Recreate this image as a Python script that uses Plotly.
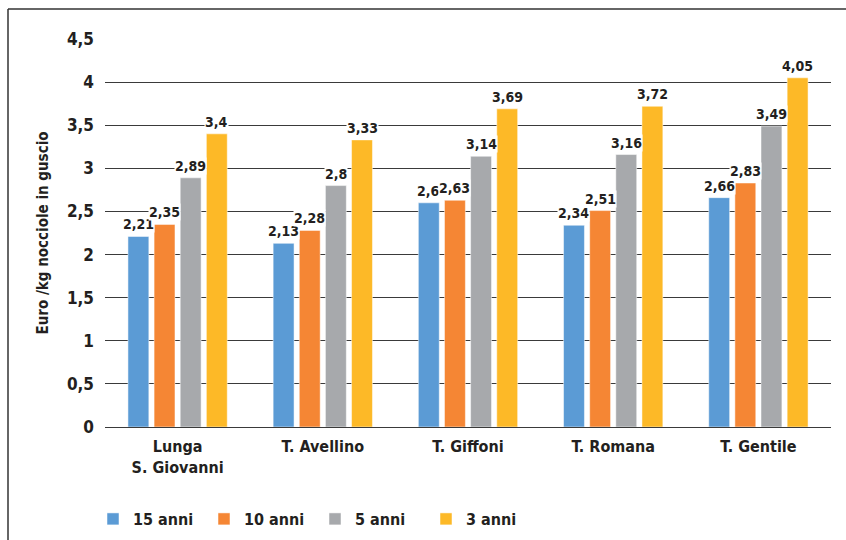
import plotly.graph_objects as go

categories = ["Lunga<br>S. Giovanni", "T. Avellino", "T. Giffoni", "T. Romana", "T. Gentile"]
series_names = ["15 anni", "10 anni", "5 anni", "3 anni"]
v15 = [2.21, 2.13, 2.6, 2.34, 2.66]
v10 = [2.35, 2.28, 2.63, 2.51, 2.83]
v5 = [2.89, 2.8, 3.14, 3.16, 3.49]
v3 = [3.4, 3.33, 3.69, 3.72, 4.05]
y_ticks = [0, 0.5, 1, 1.5, 2, 2.5, 3, 3.5, 4, 4.5]
colors = ["#5B9BD5", "#F58634", "#A7A9AC", "#FDB927"]

FONT = "DejaVu Sans Condensed, Roboto, sans-serif"
TXT = "#231F20"

W, H = 846, 540
ML, MR, MT, MB = 105, 15, 39, 113
plot_w = W - ML - MR
plot_h = H - MT - MB
bargap = 0.28
bargroupgap = 0.2

fig = go.Figure()
all_series = [v15, v10, v5, v3]
for name, vals, c in zip(series_names, all_series, colors):
    fig.add_trace(go.Bar(
        x=categories, y=vals, name=name,
        marker=dict(color=c, line=dict(color="white", width=0.5)),
    ))

# data labels with white background
cat_w = plot_w / len(categories)
slot = cat_w * (1 - bargap) / len(all_series)
for si, vals in enumerate(all_series):
    off = (si - (len(all_series) - 1) / 2) * slot
    for ci, v in enumerate(vals):
        fig.add_annotation(
            x=categories[ci], y=v, xref="x", yref="y",
            text=f"{v:g}".replace(".", ","),
            showarrow=False, xshift=off, yshift=3, yanchor="bottom",
            bgcolor="white", borderpad=0,
            font=dict(family=FONT, size=14, color=TXT, weight="bold"),
        )

def px_x(p):
    return (p - ML) / plot_w

def px_y(p):
    return (H - MB - p) / plot_h

fig.add_shape(type="line", xref="paper", yref="paper",
              x0=px_x(8), x1=px_x(846), y0=px_y(9), y1=px_y(9),
              line=dict(color="#333333", width=1.5))
fig.add_shape(type="line", xref="paper", yref="paper",
              x0=px_x(8), x1=px_x(8), y0=px_y(9), y1=px_y(540),
              line=dict(color="#333333", width=1.5))

fig.update_layout(
    width=W, height=H,
    margin=dict(l=ML, r=MR, t=MT, b=MB, autoexpand=False),
    paper_bgcolor="white", plot_bgcolor="white",
    barmode="group", bargap=bargap, bargroupgap=bargroupgap,
    separators=",.",
    font=dict(family=FONT, color=TXT, size=16, weight="bold"),
    showlegend=True,
    legend=dict(orientation="h", x=px_x(93), y=px_y(519), yanchor="middle",
                xanchor="left", entrywidth=66, entrywidthmode="pixels",
                font=dict(family=FONT, size=16, color=TXT, weight="bold"),
                itemclick=False),
    xaxis=dict(showgrid=False, showline=False, ticks="", ticklabelstandoff=8,
               tickfont=dict(family=FONT, size=16, color=TXT, weight="bold")),
    yaxis=dict(range=[0, 4.5], tickvals=y_ticks,
               ticktext=[f"{t:g}".replace(".", ",") for t in y_ticks],
               showgrid=True, gridcolor="#3a3a3a", gridwidth=1,
               zeroline=True, zerolinecolor="#3a3a3a", zerolinewidth=1,
               showline=False, ticks="", ticklabelstandoff=10,
               tickfont=dict(family=FONT, size=17, color=TXT, weight="bold"),
               title=dict(text="Euro /kg nocciole in guscio", standoff=14,
                          font=dict(family=FONT, size=15, color=TXT, weight="bold"))),
)

fig.write_html("out.html")
